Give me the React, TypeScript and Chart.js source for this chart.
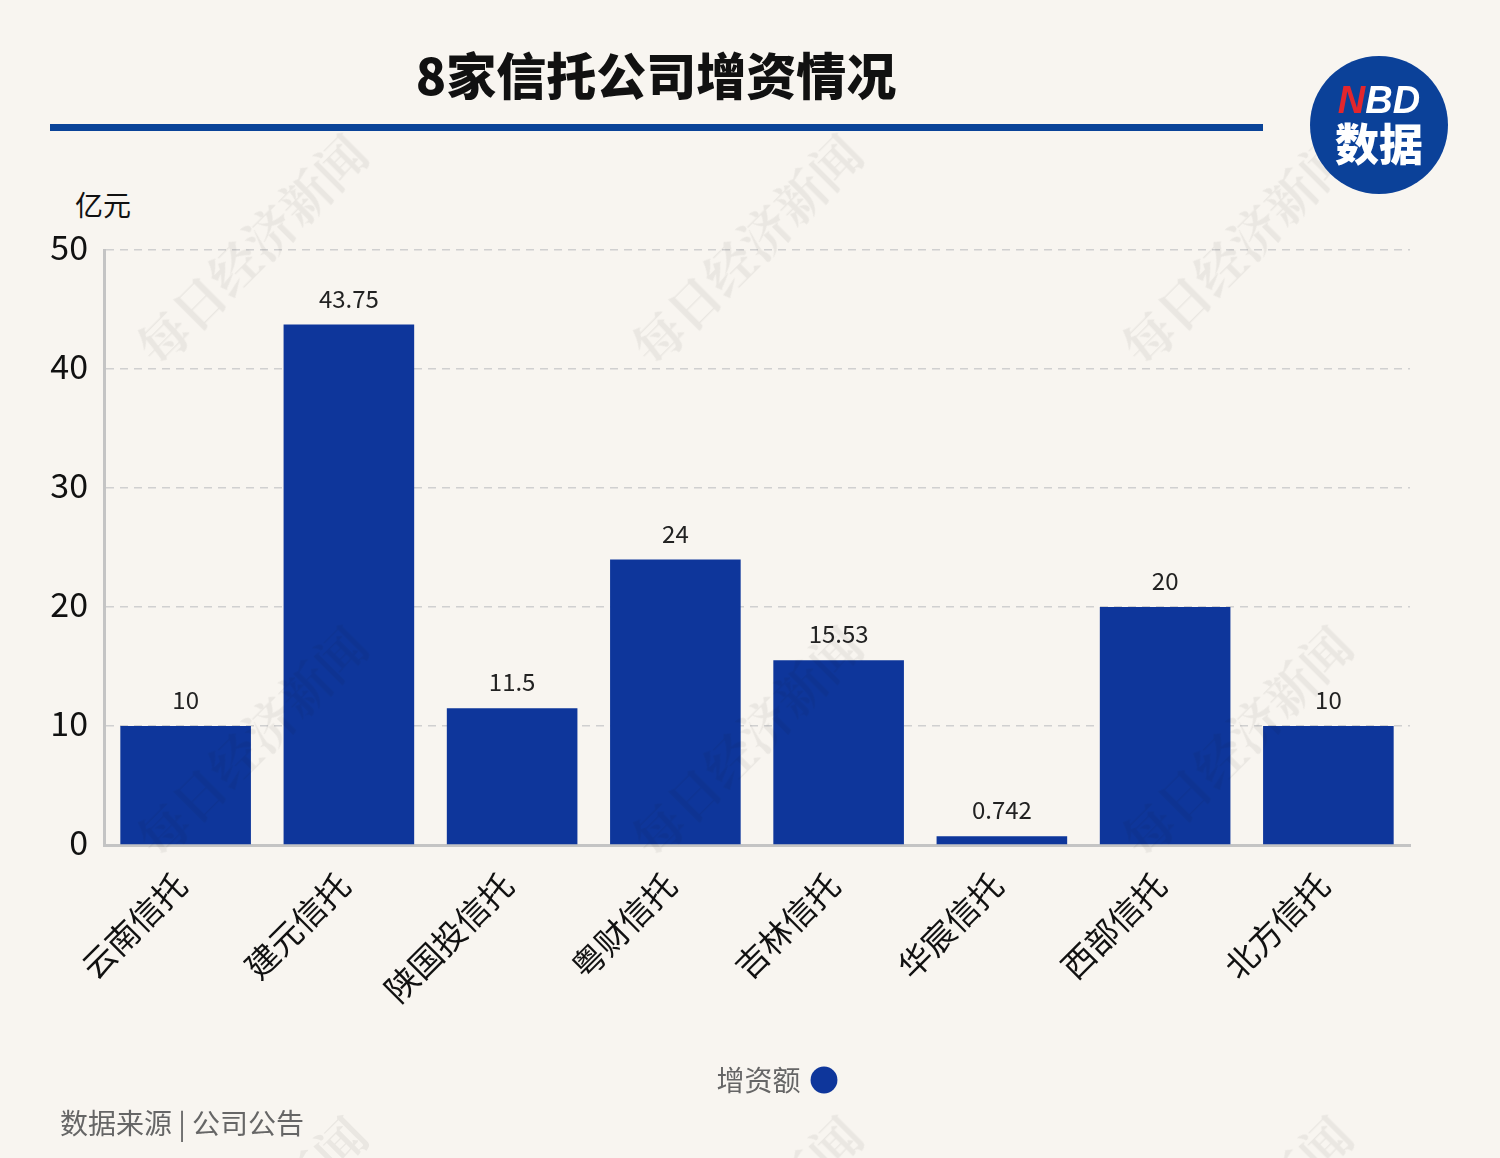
import React, { useEffect, useRef } from "react";
import { Chart, registerables } from "chart.js";

Chart.register(...registerables);

const categories = ["云南信托", "建元信托", "陕国投信托", "粤财信托", "吉林信托", "华宸信托", "西部信托", "北方信托"];
const values = [10, 43.75, 11.5, 24, 15.53, 0.742, 20, 10];
const valueLabels = ["10", "43.75", "11.5", "24", "15.53", "0.742", "20", "10"];
const seriesName = "增资额";
const yTicks = [0, 10, 20, 30, 40, 50];

const FONT = '"Noto Sans CJK SC", "Noto Sans", sans-serif';
const BAR = "#0e369b";

const valueLabelPlugin = {
  id: "valueLabels",
  afterDatasetsDraw(chart: any) {
    const ctx = chart.ctx;
    const meta = chart.getDatasetMeta(0);
    ctx.save();
    ctx.font = `24px ${FONT}`;
    ctx.fillStyle = "#222";
    ctx.textAlign = "center";
    ctx.textBaseline = "bottom";
    meta.data.forEach((bar: any, i: number) => {
      ctx.fillText(valueLabels[i], bar.x, bar.y - 14);
    });
    ctx.restore();
  },
};

export default function App() {
  const ref = useRef<HTMLCanvasElement>(null);
  useEffect(() => {
    if (!ref.current) return;
    const chart = new Chart(ref.current, {
      type: "bar",
      data: {
        labels: categories,
        datasets: [
          {
            label: seriesName,
            data: values,
            backgroundColor: BAR,
            borderWidth: 0,
            barPercentage: 0.8,
            categoryPercentage: 1,
            yAxisID: "y",
          },
        ],
      },
      options: {
        animation: false,
        responsive: false,
        layout: { padding: { top: 250, right: 0, left: 0, bottom: 54 } },
        plugins: {
          tooltip: { enabled: false },
          legend: {
            display: true,
            position: "bottom",
            rtl: true,
            labels: {
              usePointStyle: true,
              pointStyle: "circle",
              boxWidth: 19,
              boxHeight: 19,
              color: "#666",
              font: { family: FONT, size: 28 },
              padding: 8,
            },
          },
        },
        scales: {
          x: {
            grid: { display: false },
            border: { color: "#c4c4c4", width: 3 },
            ticks: {
              minRotation: 45,
              maxRotation: 45,
              color: "#111",
              font: { family: FONT, size: 33 },
              padding: 12,
              labelOffset: -5,
            },
            afterFit(scale: any) {
              scale.height = 213;
            },
          },
          y: {
            min: 0,
            max: 50,
            position: "left",
            afterBuildTicks(scale: any) {
              scale.ticks = yTicks.map((v) => ({ value: v }));
            },
            grid: {
              color: "#d0d0d0",
              lineWidth: 1.5,
              drawTicks: false,
            },
            border: { color: "#c4c4c4", width: 3, dash: [8, 6] },
            ticks: {
              color: "#111",
              font: { family: FONT, size: 34 },
              padding: 16,
              labelOffset: -3,
            },
            afterFit(scale: any) {
              scale.width = 104;
            },
          },
          spacer: {
            type: "linear",
            position: "right",
            display: true,
            grid: { display: false, drawTicks: false },
            border: { display: false },
            ticks: { display: false },
            afterFit(scale: any) {
              scale.width = 140;
            },
          },
        },
      } as any,
      plugins: [valueLabelPlugin],
    });
    return () => chart.destroy();
  }, []);

  const watermarks = [
    [250, 248], [745, 248], [1235, 248],
    [250, 740], [745, 740], [1235, 740],
    [250, 1230], [745, 1230], [1235, 1230],
  ];

  return (
    <div
      style={{
        position: "absolute",
        left: 0,
        top: 0,
        width: 1500,
        height: 1158,
        background: "#f8f5f0",
        overflow: "hidden",
        fontFamily: FONT,
      }}
    >
      <div
        style={{
          position: "absolute",
          left: 0,
          top: 40,
          width: 1312,
          textAlign: "center",
          fontSize: 50,
          fontWeight: 900,
          color: "#111",
          lineHeight: "66px",
        }}
      >
        8家信托公司增资情况
      </div>
      <div style={{ position: "absolute", left: 50, top: 124, width: 1213, height: 7, background: "#0a4398" }} />
      <div style={{ position: "absolute", left: 75, top: 186, fontSize: 28, color: "#111", lineHeight: "36px" }}>亿元</div>
      <canvas ref={ref} width={1550} height={1158} style={{ position: "absolute", left: 0, top: 0, width: 1550, height: 1158 }} />
      <div style={{ position: "absolute", left: 60, top: 1102, fontSize: 28, color: "#666", lineHeight: "40px" }}>
        数据来源 | 公司公告
      </div>
      {watermarks.map(([x, y], i) => (
        <div
          key={i}
          style={{
            position: "absolute",
            left: x - 170,
            top: y - 30,
            width: 340,
            height: 60,
            lineHeight: "60px",
            textAlign: "center",
            fontSize: 50,
            fontWeight: 700,
            fontFamily: '"Noto Serif CJK SC", "DejaVu Serif", serif',
            color: "rgba(0,0,0,0.055)",
            transform: "rotate(-45deg)",
            whiteSpace: "nowrap",
            pointerEvents: "none",
          }}
        >
          每日经济新闻
        </div>
      ))}
      <div
        style={{
          position: "absolute",
          left: 1310,
          top: 56,
          width: 138,
          height: 138,
          borderRadius: "50%",
          background: "#0b4199",
        }}
      >
        <div
          style={{
            position: "absolute",
            left: 0,
            top: 22,
            width: 138,
            textAlign: "center",
            fontSize: 38,
            fontWeight: 900,
            fontFamily: '"Liberation Sans", sans-serif',
            fontStyle: "italic",
            lineHeight: "44px",
            color: "#fff",
          }}
        >
          <span style={{ color: "#e3262d" }}>N</span>BD
        </div>
        <div
          style={{
            position: "absolute",
            left: 0,
            top: 60,
            width: 138,
            textAlign: "center",
            fontSize: 44,
            fontWeight: 900,
            lineHeight: "52px",
            color: "#fff",
          }}
        >
          数据
        </div>
      </div>
    </div>
  );
}
